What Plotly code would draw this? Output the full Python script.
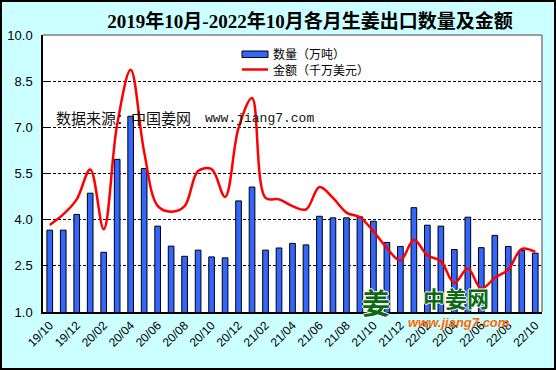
import plotly.graph_objects as go

months = ["19/10", "19/11", "19/12", "20/01", "20/02", "20/03", "20/04", "20/05", "20/06",
          "20/07", "20/08", "20/09", "20/10", "20/11", "20/12", "21/01", "21/02", "21/03",
          "21/04", "21/05", "21/06", "21/07", "21/08", "21/09", "21/10", "21/11", "21/12",
          "22/01", "22/02", "22/03", "22/04", "22/05", "22/06", "22/07", "22/08", "22/09",
          "22/10"]
tick_labels = ["19/10", "19/12", "20/02", "20/04", "20/06", "20/08", "20/10", "20/12",
               "21/02", "21/04", "21/06", "21/08", "21/10", "21/12", "22/02", "22/04",
               "22/06", "22/08", "22/10"]
quantity = [3.66, 3.66, 4.17, 4.86, 2.94, 5.96, 7.36, 5.66, 3.79, 3.14, 2.81, 3.01, 2.79,
            2.76, 4.61, 5.06, 3.01, 3.08, 3.23, 3.18, 4.11, 4.06, 4.06, 4.09, 3.95, 3.26,
            3.13, 4.39, 3.82, 3.79, 3.03, 4.08, 3.09, 3.49, 3.13, 3.00, 2.91]
amount = [3.83, 4.17, 4.66, 5.63, 3.69, 7.1, 8.87, 6.2, 4.45, 4.26, 4.44, 5.58, 5.64,
          4.74, 6.98, 7.95, 4.71, 4.66, 4.44, 4.33, 5.06, 4.71, 4.23, 4.08, 3.62, 3.08,
          2.67, 3.35, 2.84, 2.65, 1.94, 2.41, 1.76, 2.11, 2.38, 3.05, 2.95]
y_ticks = [1.0, 2.5, 4.0, 5.5, 7.0, 8.5, 10.0]
series_names = ["数量（万吨）", "金额（千万美元）"]
series_colors = ["#3366FF", "#FF0000"]

W, H = 556, 370
L, R, T, B = 43, 14, 35, 58
PW, PH = W - L - R, H - T - B

def px(x):
    return (x - L) / PW

def py(y):
    return (H - B - y) / PH

fig = go.Figure()
fig.add_trace(go.Bar(
    x=months, y=quantity, name=series_names[0],
    marker=dict(color=series_colors[0], line=dict(color="black", width=1)),
    width=0.42, showlegend=False,
))
fig.add_trace(go.Scatter(
    x=months, y=amount, name=series_names[1], mode="lines",
    line=dict(color=series_colors[1], width=2.5, shape="spline", smoothing=1),
    showlegend=False,
))

outline = "1px 0 0 white, -1px 0 0 white, 0 1px 0 white, 0 -1px 0 white"

annotations = [
    dict(text="数据来源：中国姜网", x=px(54), y=py(117), xref="paper", yref="paper",
         xanchor="left", yanchor="middle", showarrow=False,
         font=dict(family="Noto Sans CJK SC", size=15, color="#111111")),
    dict(text="www.jiang7.com", x=px(203), y=py(118), xref="paper", yref="paper",
         xanchor="left", yanchor="middle", showarrow=False,
         font=dict(family="Liberation Mono", size=13, color="#111111")),
    dict(text="<b>姜</b>", x=px(376), y=py(302), xref="paper", yref="paper",
         xanchor="center", yanchor="middle", showarrow=False,
         font=dict(family="Noto Sans CJK SC", size=28, color="#0B6B12", shadow=outline)),
    dict(text="<b>中姜网</b>", x=px(456), y=py(297), xref="paper", yref="paper",
         xanchor="center", yanchor="middle", showarrow=False, borderpad=0,
         font=dict(family="Noto Sans CJK SC", size=22, color="#0B6B12", shadow=outline)),
    dict(text="<b><i>www.jiang7.com</i></b>", x=px(459), y=py(322), xref="paper", yref="paper",
         xanchor="center", yanchor="middle", showarrow=False, borderpad=0,
         font=dict(family="Liberation Sans", size=13, color="#FF6600")),
    # legend texts
    dict(text=series_names[0], x=px(272), y=py(53.5), xref="paper", yref="paper",
         xanchor="left", yanchor="middle", showarrow=False, borderpad=0,
         font=dict(family="Noto Sans CJK SC", size=12, color="black")),
    dict(text=series_names[1], x=px(272), y=py(69.5), xref="paper", yref="paper",
         xanchor="left", yanchor="middle", showarrow=False, borderpad=0,
         font=dict(family="Noto Sans CJK SC", size=12, color="black")),
]

shapes = [
    dict(type="rect", xref="paper", yref="paper",
         x0=px(1), x1=px(W - 1), y0=py(H - 1), y1=py(1),
         line=dict(color="black", width=2), layer="below"),
    dict(type="line", xref="paper", yref="paper", x0=0, x1=1, y0=1, y1=1,
         line=dict(color="#808080", width=1.5), layer="above"),
    dict(type="line", xref="paper", yref="paper", x0=1, x1=1, y0=0, y1=1,
         line=dict(color="#808080", width=1.5), layer="above"),
    # legend swatches
    dict(type="rect", xref="paper", yref="paper",
         x0=px(242), x1=px(268), y0=py(57.5), y1=py(51),
         fillcolor=series_colors[0], line=dict(color="black", width=1), layer="above"),
    dict(type="line", xref="paper", yref="paper",
         x0=px(242), x1=px(268), y0=py(69.5), y1=py(69.5),
         line=dict(color=series_colors[1], width=2.5), layer="above"),
]

fig.update_layout(
    width=W, height=H,
    margin=dict(l=L, r=R, t=T, b=B, autoexpand=False),
    paper_bgcolor="#CCFFFF",
    plot_bgcolor="white",
    title=dict(text="<b>2019年10月-2022年10月各月生姜出口数量及金额</b>",
               x=310 / W, y=1 - 21 / H, xanchor="center", yanchor="middle",
               font=dict(family="Liberation Serif, Noto Sans CJK SC", size=19, color="black")),
    showlegend=False,
    bargap=0.5,
    xaxis=dict(type="category", range=[-0.5, len(months) - 0.5], automargin=False,
               tickvals=tick_labels, ticktext=tick_labels, tickangle=-45,
               tickfont=dict(family="Liberation Sans", size=12, color="black"),
               showgrid=False, showline=True, linecolor="black", linewidth=1.5,
               ticks="", zeroline=False),
    yaxis=dict(range=[1, 10], tickvals=y_ticks, tickformat=".1f", automargin=False,
               tickfont=dict(family="Liberation Sans", size=13, color="black"),
               showgrid=True, gridcolor="black", gridwidth=1, griddash="3px,2px",
               showline=True, linecolor="black", linewidth=1.5,
               ticks="inside", ticklen=5, tickcolor="black",
               ticklabelstandoff=6, zeroline=False),
    annotations=annotations,
    shapes=shapes,
)

fig.write_html("out.html", config={"displayModeBar": False},
               post_script="document.body.style.margin='0';document.body.style.overflow='hidden';")
